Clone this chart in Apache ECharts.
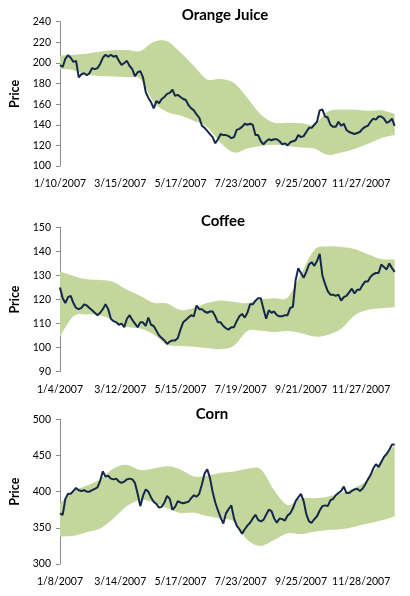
<!DOCTYPE html>
<html>
<head>
<meta charset="utf-8">
<script src="https://cdn.jsdelivr.net/npm/echarts@6/dist/echarts.min.js"></script>
<style>
  html, body { margin: 0; padding: 0; background: #fff; }
  #chart { width: 410px; height: 596px; }
</style>
</head>
<body>
<div id="chart"></div>
<script>
// x is the trading-day index; a date label every 45 trading days
var ojDates = ["1/10/2007", "3/15/2007", "5/17/2007", "7/23/2007", "9/25/2007", "11/27/2007"];
var coffeeDates = ["1/4/2007", "3/12/2007", "5/15/2007", "7/19/2007", "9/21/2007", "11/27/2007"];
var cornDates = ["1/8/2007", "3/14/2007", "5/17/2007", "7/23/2007", "9/25/2007", "11/28/2007"];

// price, every 2nd trading day
var ojPrice = [198, 196, 204, 207.5, 205, 201, 202, 186, 189, 190,
  188, 190, 195, 194, 195, 199, 205, 208, 206, 208,
  206, 207, 202, 198, 200, 202, 197, 194, 187, 191,
  192, 186, 172, 166, 162, 156, 163, 161, 165, 167,
  170, 171, 174, 168, 169, 167, 165, 164, 159, 156,
  154, 150, 147, 139, 137, 134, 131, 128, 122, 126,
  131, 130, 130, 129, 127, 128, 135, 136, 138, 141,
  140, 141, 140, 130, 130, 124, 121, 124, 126, 125,
  126, 126, 124, 121, 122, 120, 123, 124, 125, 130,
  128, 129, 133, 137, 137, 140, 143, 154, 155, 148,
  147, 140, 138, 138, 143, 139, 141, 135, 133, 132,
  131, 132, 133, 136, 138, 139, 143, 146, 145, 148,
  148, 146, 142, 143, 146, 139];
var coffeePrice = [125, 120.5, 118.5, 121, 121.5, 118.5, 116.5, 116, 116.5, 118,
  117.5, 116.5, 115.5, 114.5, 113.5, 114.5, 116, 118, 116, 112,
  111, 110.5, 109.5, 110, 108.5, 112, 113.5, 111.5, 110, 108.5,
  110.5, 110.5, 109, 112.5, 109.5, 109, 107, 105, 104, 103,
  101.5, 102.5, 103, 103, 104, 107.5, 110.5, 111.5, 112.5, 113.5,
  113, 117.5, 116, 116, 115, 114.5, 115, 115, 113, 110.5,
  110.5, 109, 108, 107.5, 108.5, 108.5, 111, 113, 114, 112.5,
  114.5, 118, 118, 119.5, 120.5, 120.5, 116, 112, 115.5, 114.5,
  115, 113.5, 113, 113, 113.5, 113.5, 116.5, 117, 128, 133,
  131, 129, 131.5, 134.5, 135.5, 134, 136, 139, 130, 126.5,
  123.5, 122, 122, 121.5, 122, 119.5, 121, 121.5, 123, 124.5,
  122.5, 124, 124, 126, 127.5, 127.5, 129.5, 130.5, 131, 131,
  134.5, 133.5, 132.5, 135, 133, 131.5];
var cornPrice = [370, 368, 390, 397, 397, 401, 405, 402, 401, 402,
  400, 400, 402, 404, 406, 415, 428, 421, 422, 418,
  417, 418, 414, 412, 414, 417, 418, 417, 412, 397,
  380, 394, 403, 400, 392, 386, 383, 378, 379, 385,
  394, 390, 375, 379, 387, 385, 384, 385, 386, 391,
  395, 393, 397, 410, 425, 431, 419, 400, 385, 374,
  364, 356, 370, 376, 381, 363, 353, 348, 342, 348,
  353, 357, 363, 368, 361, 359, 361, 368, 375, 373,
  363, 357, 363, 362, 360, 367, 370, 377, 387, 392,
  397, 387, 369, 359, 357, 362, 366, 374, 380, 381,
  380, 388, 390, 395, 398, 401, 407, 398, 398, 401,
  403, 404, 401, 404, 410, 417, 423, 432, 438, 434,
  441, 448, 452, 458, 465, 465];

// band upper / lower, every 10th trading day
var ojUpper = [207, 208, 209, 211, 212.5, 212.5, 211.5, 220.5, 221, 210, 197, 184, 184.5,
  180.5, 166, 150, 142, 142, 141.4, 140.5, 152.7, 154.7, 154.5, 153.5, 154, 150.5];
var ojLower = [194, 193, 188.5, 187.3, 186.8, 186, 184.5, 162, 152.5, 149, 144, 137.5, 122.5,
  113, 117, 119.5, 120.5, 119.5, 118, 117, 110.8, 113, 116.5, 121.5, 127, 130];
var coffeeUpper = [131.6, 129.8, 128.4, 128.1, 127.3, 124, 121.5, 118.7, 118.3, 115.6, 116.5, 118.5, 119.6,
  119, 118.5, 120, 120.5, 120.8, 130.5, 140.6, 142, 141.8, 141, 138.8, 136.8, 136.6];
var coffeeLower = [104.6, 113, 113.8, 113.5, 111.3, 108.6, 108, 105.5, 101.3, 100.7, 100.4, 99.8, 99.4,
  100.8, 106.9, 107, 106.4, 106.9, 106.1, 104.6, 105.3, 107.8, 113.4, 115.7, 116.4, 116.8];
var cornUpper = [384, 401, 408, 417, 432, 437, 430, 432, 435, 430.5, 421, 422, 426,
  428, 431.5, 431, 402, 381.6, 391, 391, 393, 398, 405, 417, 443, 464.5];
var cornLower = [338, 339, 344, 349, 363, 380, 388.5, 385, 377, 370.5, 371, 366.5, 363,
  358.5, 333, 325, 333, 342.5, 341.5, 344.7, 347, 348, 351.6, 356, 360, 365.5];

var PRICE_STEP = 2;
var BAND_STEP = 10;
var LAST_DAY = 251;
var LABEL_EVERY = 45;
var FONT = "Lato, 'Noto Sans', sans-serif";

var panels = [
  { name: "Orange Juice", dates: ojDates, price: ojPrice, up: ojUpper, lo: ojLower,
    min: 100, max: 240, step: 20, top: 21.7, height: 144.3, titleX: 225, titleY: 15 },
  { name: "Coffee", dates: coffeeDates, price: coffeePrice, up: coffeeUpper, lo: coffeeLower,
    min: 90, max: 150, step: 10, top: 227.3, height: 144.4, titleX: 223, titleY: 221 },
  { name: "Corn", dates: cornDates, price: cornPrice, up: cornUpper, lo: cornLower,
    min: 300, max: 500, step: 50, top: 419.3, height: 144.7, titleX: 212, titleY: 414 }
];

// smooth curve (catmull-rom as cubic beziers) through pixel points
function curveThrough(pts) {
  var d = "";
  for (var i = 0; i < pts.length - 1; i++) {
    var p0 = pts[Math.max(i - 1, 0)], p1 = pts[i], p2 = pts[i + 1], p3 = pts[Math.min(i + 2, pts.length - 1)];
    d += " C" + (p1[0] + (p2[0] - p0[0]) / 6) + " " + (p1[1] + (p2[1] - p0[1]) / 6) +
      " " + (p2[0] - (p3[0] - p1[0]) / 6) + " " + (p2[1] - (p3[1] - p1[1]) / 6) +
      " " + p2[0] + " " + p2[1];
  }
  return d;
}

var option = {
  backgroundColor: "#fff",
  animation: false,
  textStyle: { fontFamily: FONT },
  title: [], grid: [], xAxis: [], yAxis: [], series: []
};

panels.forEach(function (p, i) {
  option.title.push({
    text: p.name, left: p.titleX, top: p.titleY, padding: 0,
    textAlign: "center", textVerticalAlign: "middle",
    textStyle: { fontFamily: FONT, fontSize: 15, fontWeight: "bold", color: "#000" }
  });
  option.grid.push({ left: 57, top: p.top, width: 339, height: p.height });
  option.xAxis.push({
    type: "value", gridIndex: i, min: 0, max: LAST_DAY, interval: LABEL_EVERY,
    axisLine: { show: false }, axisTick: { show: false }, splitLine: { show: false },
    axisLabel: {
      margin: 12, fontSize: 10.5, color: "#000",
      alignMinLabel: "center", alignMaxLabel: "center", hideOverlap: false,
      formatter: function (v) {
        return v % LABEL_EVERY === 0 ? (p.dates[v / LABEL_EVERY] || "") : "";
      }
    }
  });
  option.yAxis.push({
    type: "value", gridIndex: i, min: p.min, max: p.max, interval: p.step,
    name: "Price", nameLocation: "middle", nameGap: 39, nameRotate: 90,
    nameTextStyle: { fontFamily: FONT, fontSize: 12.5, fontWeight: "bold", color: "#000" },
    axisLine: { show: true, lineStyle: { color: "#8c8c8c", width: 1 } },
    axisTick: { show: true, length: 4, lineStyle: { color: "#8c8c8c" } },
    splitLine: { show: false },
    axisLabel: { margin: 9, fontSize: 10.5, color: "#000" }
  });
  // green band: one filled path between upper and lower, placed through the axes
  option.series.push({
    type: "custom", xAxisIndex: i, yAxisIndex: i, silent: true, z: 1,
    data: p.up.map(function (u, k) { return [k * BAND_STEP, p.lo[k], u]; }),
    encode: { x: 0, y: [1, 2] },
    renderItem: function (params, api) {
      if (params.dataIndex !== 0) return null;
      var top = p.up.map(function (u, k) { return api.coord([k * BAND_STEP, u]); });
      var bot = p.lo.map(function (l, k) { return api.coord([k * BAND_STEP, l]); }).reverse();
      var d = "M" + top[0][0] + " " + top[0][1] + curveThrough(top) +
        " L" + bot[0][0] + " " + bot[0][1] + curveThrough(bot) + " Z";
      return { type: "path", shape: { pathData: d }, style: { fill: "#c3d69b" } };
    }
  });
  option.series.push({
    type: "line", xAxisIndex: i, yAxisIndex: i, z: 3,
    showSymbol: false, silent: true,
    data: p.price.map(function (v, k) { return [k * PRICE_STEP, v]; }),
    lineStyle: { color: "#14284b", width: 2 }
  });
});

var myChart = echarts.init(document.getElementById("chart"));
myChart.setOption(option);
</script>
</body>
</html>
